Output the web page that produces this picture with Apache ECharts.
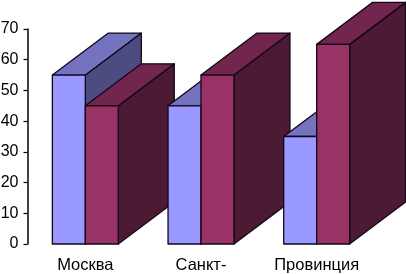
<!DOCTYPE html>
<html>
<head>
<meta charset="utf-8">
<style>html,body{margin:0;padding:0;background:#fff}#c{width:406px;height:274px}</style>
<script src="https://cdn.jsdelivr.net/npm/echarts@6/dist/echarts.min.js"></script>
</head>
<body>
<div id="c"></div>
<script>
var categories = ['Москва', 'Санкт-', 'Провинция'];
var seriesA = [55, 45, 35];
var seriesB = [45, 55, 65];
var yTicks = {min: 0, max: 70, interval: 10};

var rows = [];
categories.forEach(function (c, i) {
  rows.push([i, seriesA[i], 0]);
  rows.push([i, seriesB[i], 1]);
});

var palette = [
  {front: '#9999FF', top: '#7373BF', side: '#4C4C80'},
  {front: '#993366', top: '#73264D', side: '#4D1A33'}
];
var BAR_FRAC = 0.285, DX_FRAC = 0.484, DY_RATIO = 0.75;

function face(points, fill) {
  return {
    type: 'polygon',
    shape: {points: points},
    style: {fill: fill, stroke: '#12061a', lineWidth: 1.3, lineJoin: 'round'}
  };
}

function renderItem(params, api) {
  var i = api.value(0), v = api.value(1), s = api.value(2);
  var band = api.size([1, 0])[0];
  var w = band * BAR_FRAC;
  var dx = band * DX_FRAC, dy = dx * DY_RATIO;
  var top = api.coord([i, v]);
  var base = api.coord([i, 0]);
  var x0 = top[0] + (s - 1) * w, x1 = x0 + w;
  var yt = top[1], yb = base[1];
  var c = palette[s];
  return {
    type: 'group',
    children: [
      face([[x1, yt], [x1 + dx, yt - dy], [x1 + dx, yb - dy], [x1, yb]], c.side),
      face([[x0, yt], [x0 + dx, yt - dy], [x1 + dx, yt - dy], [x1, yt]], c.top),
      face([[x0, yt], [x1, yt], [x1, yb], [x0, yb]], c.front)
    ]
  };
}

var chart = echarts.init(document.getElementById('c'), null, {renderer: 'canvas'});
chart.setOption({
  animation: false,
  backgroundColor: '#fff',
  grid: {left: 27.5, top: 29, width: 347, height: 215, containLabel: false, outerBoundsMode: 'none'},
  xAxis: {
    type: 'category',
    data: categories,
    axisLine: {show: false},
    axisTick: {show: false},
    axisLabel: {
      margin: 13, interval: 0, color: '#000',
      fontFamily: 'Liberation Sans', fontSize: 16.5
    }
  },
  yAxis: {
    type: 'value',
    min: yTicks.min, max: yTicks.max, interval: yTicks.interval,
    splitLine: {show: false},
    axisLine: {show: true, lineStyle: {color: '#000', width: 1.5}},
    axisTick: {show: true, length: 4, lineStyle: {color: '#000', width: 1.2}},
    axisLabel: {
      margin: 9, color: '#000', padding: [2, 0, 0, 0],
      fontFamily: 'Liberation Sans', fontSize: 16
    }
  },
  series: [{
    type: 'custom',
    clip: false,
    renderItem: renderItem,
    encode: {x: 0, y: 1},
    data: rows
  }]
});
</script>
</body>
</html>
